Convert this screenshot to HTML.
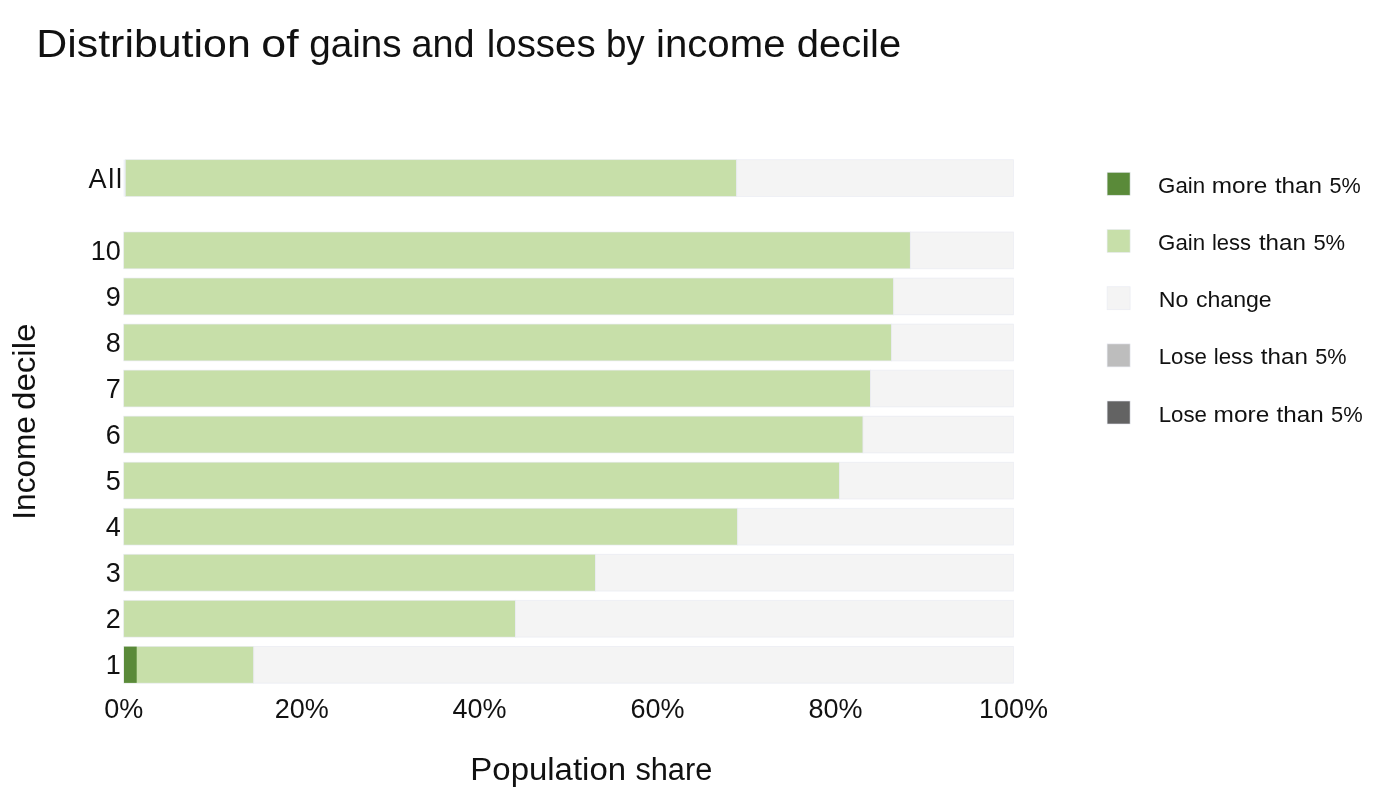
<!DOCTYPE html>
<html lang="en">
<head>
<meta charset="utf-8">
<title>Distribution of gains and losses by income decile</title>
<style>
html,body{margin:0;padding:0;background:#fff;}
body{width:1400px;height:812px;overflow:hidden;}
svg{display:block;will-change:transform;}
text{font-family:"Liberation Sans", sans-serif;fill:#111;}
.bar{stroke:#E7EAF2;stroke-width:0.7;stroke-opacity:0.85;}
</style>
</head>
<body>
<svg width="1400" height="812" viewBox="0 0 1400 812">
<rect x="0" y="0" width="1400" height="812" fill="#ffffff"/>
<text id="title" y="56.8" font-size="38.8"><tspan x="36.28" textLength="214.46" lengthAdjust="spacingAndGlyphs">Distribution</tspan> <tspan x="261.35" textLength="37.30" lengthAdjust="spacingAndGlyphs">of</tspan> <tspan x="309.30" textLength="92.39" lengthAdjust="spacingAndGlyphs">gains</tspan> <tspan x="411.43" textLength="63.01" lengthAdjust="spacingAndGlyphs">and</tspan> <tspan x="486.82" textLength="108.76" lengthAdjust="spacingAndGlyphs">losses</tspan> <tspan x="605.90" textLength="38.83" lengthAdjust="spacingAndGlyphs">by</tspan> <tspan x="656.03" textLength="129.50" lengthAdjust="spacingAndGlyphs">income</tspan> <tspan x="796.77" textLength="104.46" lengthAdjust="spacingAndGlyphs">decile</tspan></text>
<g>
<rect x="123.6" y="159.70" width="1.8" height="36.8" fill="#EEF1F6"/>
<rect class="bar" x="125.3" y="159.70" width="611.4" height="36.8" fill="#C7DFA9"/>
<rect class="bar" x="736.7" y="159.70" width="276.8" height="36.8" fill="#F4F4F4"/>
<text class="yt" x="122.0" y="187.6" font-size="27" text-anchor="end" textLength="33.6" lengthAdjust="spacing">All</text>
</g>
<g>
<rect class="bar" x="123.7" y="232.00" width="786.6" height="36.8" fill="#C7DFA9"/>
<rect class="bar" x="910.3" y="232.00" width="103.2" height="36.8" fill="#F4F4F4"/>
<text class="yt" x="120.9" y="259.9" font-size="27" text-anchor="end">10</text>
</g>
<g>
<rect class="bar" x="123.7" y="278.04" width="770.0" height="36.8" fill="#C7DFA9"/>
<rect class="bar" x="893.7" y="278.04" width="119.8" height="36.8" fill="#F4F4F4"/>
<text class="yt" x="120.9" y="305.9" font-size="27" text-anchor="end">9</text>
</g>
<g>
<rect class="bar" x="123.7" y="324.08" width="767.9" height="36.8" fill="#C7DFA9"/>
<rect class="bar" x="891.6" y="324.08" width="121.9" height="36.8" fill="#F4F4F4"/>
<text class="yt" x="120.9" y="352.0" font-size="27" text-anchor="end">8</text>
</g>
<g>
<rect class="bar" x="123.7" y="370.12" width="746.7" height="36.8" fill="#C7DFA9"/>
<rect class="bar" x="870.4" y="370.12" width="143.1" height="36.8" fill="#F4F4F4"/>
<text class="yt" x="120.9" y="398.0" font-size="27" text-anchor="end">7</text>
</g>
<g>
<rect class="bar" x="123.7" y="416.16" width="739.3" height="36.8" fill="#C7DFA9"/>
<rect class="bar" x="863.0" y="416.16" width="150.5" height="36.8" fill="#F4F4F4"/>
<text class="yt" x="120.9" y="444.1" font-size="27" text-anchor="end">6</text>
</g>
<g>
<rect class="bar" x="123.7" y="462.20" width="715.9" height="36.8" fill="#C7DFA9"/>
<rect class="bar" x="839.6" y="462.20" width="173.9" height="36.8" fill="#F4F4F4"/>
<text class="yt" x="120.9" y="490.1" font-size="27" text-anchor="end">5</text>
</g>
<g>
<rect class="bar" x="123.7" y="508.24" width="614.0" height="36.8" fill="#C7DFA9"/>
<rect class="bar" x="737.7" y="508.24" width="275.8" height="36.8" fill="#F4F4F4"/>
<text class="yt" x="120.9" y="536.1" font-size="27" text-anchor="end">4</text>
</g>
<g>
<rect class="bar" x="123.7" y="554.28" width="471.8" height="36.8" fill="#C7DFA9"/>
<rect class="bar" x="595.5" y="554.28" width="418.0" height="36.8" fill="#F4F4F4"/>
<text class="yt" x="120.9" y="582.2" font-size="27" text-anchor="end">3</text>
</g>
<g>
<rect class="bar" x="123.7" y="600.32" width="391.8" height="36.8" fill="#C7DFA9"/>
<rect class="bar" x="515.5" y="600.32" width="498.0" height="36.8" fill="#F4F4F4"/>
<text class="yt" x="120.9" y="628.2" font-size="27" text-anchor="end">2</text>
</g>
<g>
<rect class="bar" x="123.7" y="646.36" width="130.1" height="36.8" fill="#C7DFA9"/>
<rect x="124.0" y="646.66" width="12.7" height="36.2" fill="#5A8A39"/>
<rect class="bar" x="253.8" y="646.36" width="759.7" height="36.8" fill="#F4F4F4"/>
<text class="yt" x="120.9" y="674.3" font-size="27" text-anchor="end">1</text>
</g>
<text class="xt" x="123.7" y="717.5" font-size="27" text-anchor="middle">0%</text>
<text class="xt" x="301.7" y="717.5" font-size="27" text-anchor="middle">20%</text>
<text class="xt" x="479.6" y="717.5" font-size="27" text-anchor="middle">40%</text>
<text class="xt" x="657.6" y="717.5" font-size="27" text-anchor="middle">60%</text>
<text class="xt" x="835.5" y="717.5" font-size="27" text-anchor="middle">80%</text>
<text class="xt" x="1013.5" y="717.5" font-size="27" text-anchor="middle">100%</text>
<text id="xtitle" y="779.7" font-size="31"><tspan x="470.38" textLength="155.64" lengthAdjust="spacingAndGlyphs">Population</tspan> <tspan x="635.40" textLength="76.93" lengthAdjust="spacingAndGlyphs">share</tspan></text>
<text id="ytitle" transform="translate(34.6,421.3) rotate(-90)" font-size="31"><tspan x="-98.44" textLength="103.71" lengthAdjust="spacingAndGlyphs">Income</tspan> <tspan x="11.33" textLength="86.39" lengthAdjust="spacingAndGlyphs">decile</tspan></text>
<rect class="bar" x="1107.1" y="172.3" width="23" height="23" fill="#5A8A39"/>
<text class="lg" y="192.8" font-size="22.8"><tspan x="1158.12" textLength="47.04" lengthAdjust="spacingAndGlyphs">Gain</tspan> <tspan x="1211.83" textLength="55.49" lengthAdjust="spacingAndGlyphs">more</tspan> <tspan x="1274.90" textLength="47.12" lengthAdjust="spacingAndGlyphs">than</tspan> <tspan x="1329.60" textLength="31.26" lengthAdjust="spacingAndGlyphs">5%</tspan></text>
<rect class="bar" x="1107.1" y="229.5" width="23" height="23" fill="#C7DFA9"/>
<text class="lg" y="250.0" font-size="22.8"><tspan x="1158.12" textLength="47.04" lengthAdjust="spacingAndGlyphs">Gain</tspan> <tspan x="1211.94" textLength="39.05" lengthAdjust="spacingAndGlyphs">less</tspan> <tspan x="1258.90" textLength="47.02" lengthAdjust="spacingAndGlyphs">than</tspan> <tspan x="1313.40" textLength="31.76" lengthAdjust="spacingAndGlyphs">5%</tspan></text>
<rect class="bar" x="1107.1" y="286.7" width="23" height="23" fill="#F4F4F4"/>
<text class="lg" y="307.1" font-size="22.8"><tspan x="1158.68" textLength="29.71" lengthAdjust="spacingAndGlyphs">No</tspan> <tspan x="1195.90" textLength="75.79" lengthAdjust="spacingAndGlyphs">change</tspan></text>
<rect class="bar" x="1107.1" y="343.9" width="23" height="23" fill="#BDBDBD"/>
<text class="lg" y="364.3" font-size="22.8"><tspan x="1158.72" textLength="48.24" lengthAdjust="spacingAndGlyphs">Lose</tspan> <tspan x="1213.72" textLength="39.56" lengthAdjust="spacingAndGlyphs">less</tspan> <tspan x="1260.80" textLength="47.02" lengthAdjust="spacingAndGlyphs">than</tspan> <tspan x="1315.30" textLength="31.36" lengthAdjust="spacingAndGlyphs">5%</tspan></text>
<rect class="bar" x="1107.1" y="401.0" width="23" height="23" fill="#636363"/>
<text class="lg" y="421.5" font-size="22.8"><tspan x="1158.72" textLength="48.24" lengthAdjust="spacingAndGlyphs">Lose</tspan> <tspan x="1213.63" textLength="55.70" lengthAdjust="spacingAndGlyphs">more</tspan> <tspan x="1276.50" textLength="47.12" lengthAdjust="spacingAndGlyphs">than</tspan> <tspan x="1331.00" textLength="31.66" lengthAdjust="spacingAndGlyphs">5%</tspan></text>
</svg>
</body>
</html>
